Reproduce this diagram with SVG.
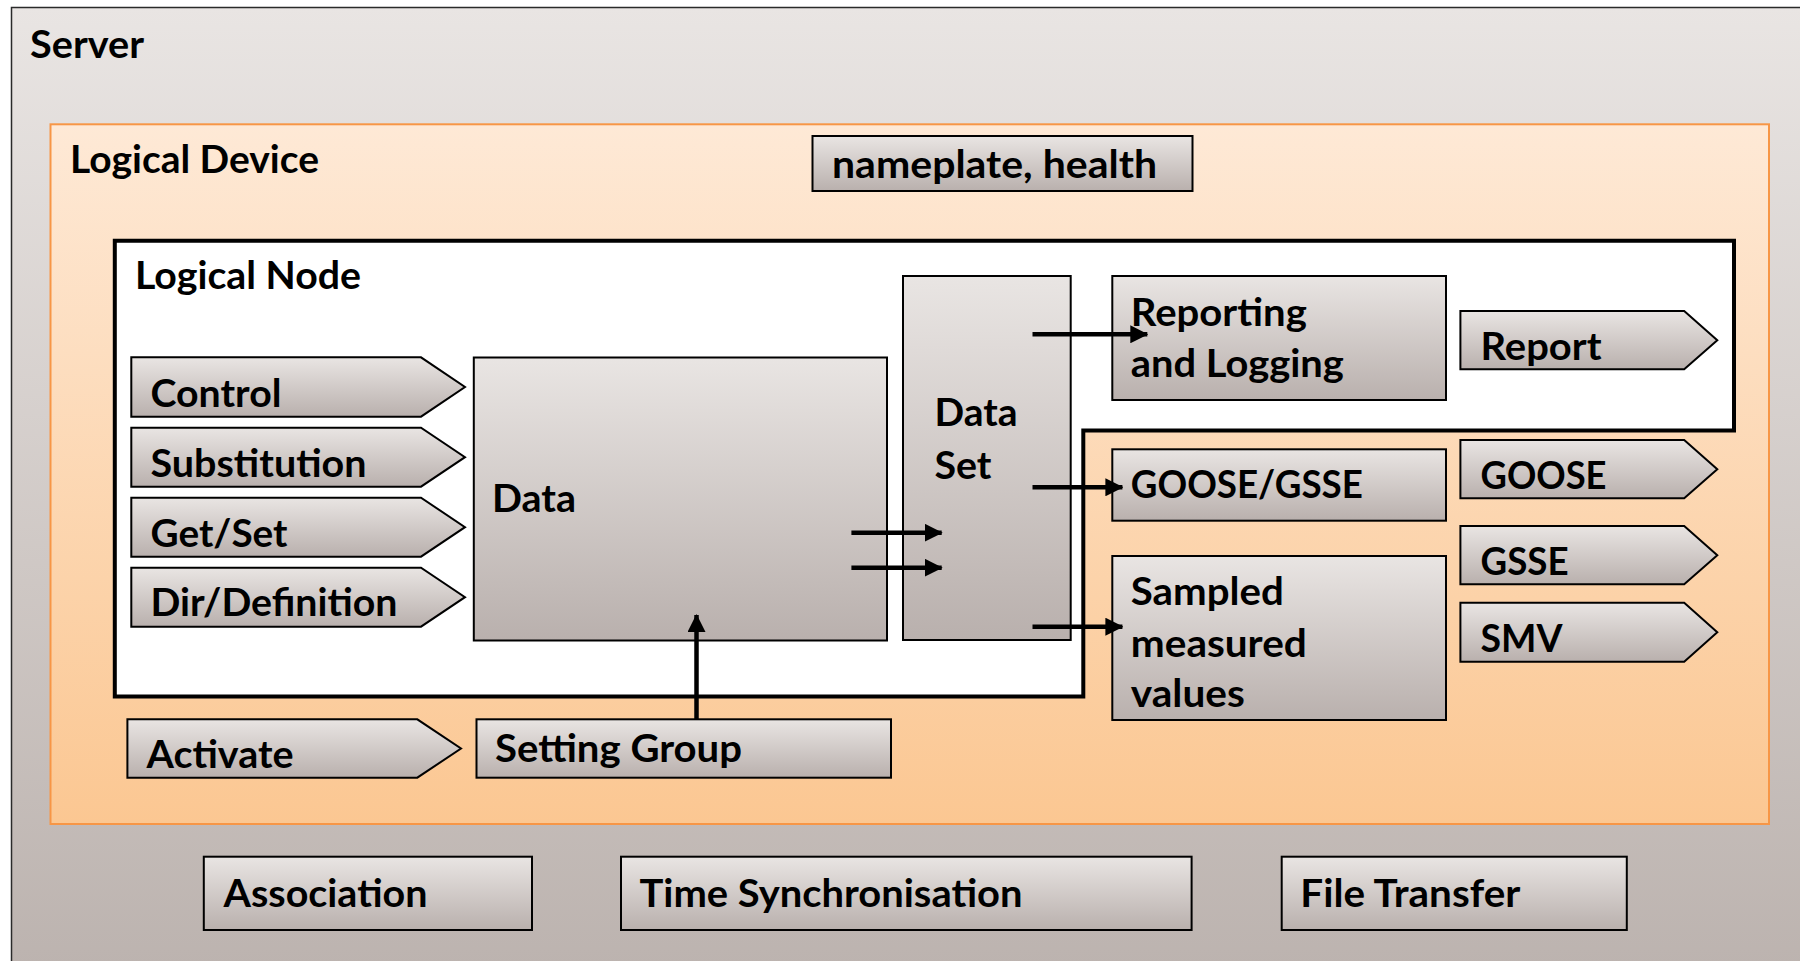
<svg xmlns="http://www.w3.org/2000/svg" width="1800" height="961" viewBox="0 0 1800 961">
<defs>
<linearGradient id="gServer" x1="0" y1="0" x2="0" y2="1"><stop offset="0" stop-color="#E9E5E3"/><stop offset="1" stop-color="#BCB3AF"/></linearGradient>
<linearGradient id="gLD" x1="0" y1="0" x2="0" y2="1"><stop offset="0" stop-color="#FEE9D6"/><stop offset="1" stop-color="#FBC792"/></linearGradient>
<linearGradient id="gBox" x1="0" y1="0" x2="0" y2="1"><stop offset="0" stop-color="#E9E5E3"/><stop offset="1" stop-color="#B9B0AD"/></linearGradient>
<marker id="ah" markerUnits="userSpaceOnUse" markerWidth="18" markerHeight="18" refX="17" refY="9" orient="auto"><path d="M0,0 L18,9 L0,18 z" fill="#000"/></marker>
<style>
.t{font-family:Lato,'Liberation Sans',sans-serif;font-weight:700;font-size:37.5px;fill:#000}
.box{fill:url(#gBox);stroke:#000;stroke-width:2}
.con{stroke:#000;stroke-width:4.5;fill:none}
</style>
</defs>
<g id="server">
<rect x="11.5" y="7.5" width="1800" height="960" fill="url(#gServer)" stroke="#2a2a2a" stroke-width="1.5"/>
<text class="t" x="30" y="58.3" textLength="114" lengthAdjust="spacingAndGlyphs">Server</text>
</g>
<g id="logical-device">
<rect x="50.5" y="124.3" width="1718.5" height="699.7" fill="url(#gLD)" stroke="#F79646" stroke-width="2"/>
<text class="t" x="70" y="173.3" textLength="249" lengthAdjust="spacingAndGlyphs">Logical Device</text>
</g>
<g id="nameplate">
<rect class="box" x="812.5" y="136" width="380" height="55"/>
<text class="t" x="832" y="177.7" textLength="325" lengthAdjust="spacingAndGlyphs">nameplate, health</text>
</g>
<g id="logical-node">
<path d="M114.8,240.7 L1734,240.7 L1734,430.5 L1083.3,430.5 L1083.3,696.5 L114.8,696.5 Z" fill="#fff" stroke="#000" stroke-width="4"/>
<text class="t" x="135" y="289.3" textLength="226" lengthAdjust="spacingAndGlyphs">Logical Node</text>
</g>
<g id="control">
<path class="box" d="M131.3,357.3 L421,357.3 L465,387 L421,416.7 L131.3,416.7 Z"/>
<text class="t" x="150.5" y="407.3" textLength="131" lengthAdjust="spacingAndGlyphs">Control</text>
</g>
<g id="substitution">
<path class="box" d="M131.3,427.7 L421,427.7 L465,457.2 L421,486.7 L131.3,486.7 Z"/>
<text class="t" x="150.5" y="476.7" textLength="216" lengthAdjust="spacingAndGlyphs">Substitution</text>
</g>
<g id="getset">
<path class="box" d="M131.3,497.7 L421,497.7 L465,527.2 L421,556.7 L131.3,556.7 Z"/>
<text class="t" x="150.5" y="546.7" textLength="137" lengthAdjust="spacingAndGlyphs">Get/Set</text>
</g>
<g id="dirdef">
<path class="box" d="M131.3,567.7 L421,567.7 L465,597.2 L421,626.7 L131.3,626.7 Z"/>
<text class="t" x="150.5" y="616" textLength="247" lengthAdjust="spacingAndGlyphs">Dir/Definition</text>
</g>
<g id="data">
<rect class="box" x="473.8" y="357.5" width="413.2" height="283"/>
<text class="t" x="492" y="512.3" textLength="84" lengthAdjust="spacingAndGlyphs">Data</text>
</g>
<g id="dataset">
<rect class="box" x="903" y="276" width="167.7" height="364"/>
<text class="t" x="934.5" y="426" textLength="83" lengthAdjust="spacingAndGlyphs">Data</text>
<text class="t" x="934.5" y="479.3" textLength="57" lengthAdjust="spacingAndGlyphs">Set</text>
</g>
<g id="reporting">
<rect class="box" x="1112.3" y="276" width="333.7" height="124"/>
<text class="t" x="1130.8" y="326" textLength="176" lengthAdjust="spacingAndGlyphs">Reporting</text>
<text class="t" x="1130.8" y="376.7" textLength="213" lengthAdjust="spacingAndGlyphs">and Logging</text>
</g>
<g id="report">
<path class="box" d="M1460.4,311 L1684.2,311 L1717.3,340.2 L1684.2,369.3 L1460.4,369.3 Z"/>
<text class="t" x="1480.5" y="360" textLength="121" lengthAdjust="spacingAndGlyphs">Report</text>
</g>
<g id="goose-gsse">
<rect class="box" x="1112.3" y="449.3" width="333.7" height="71.4"/>
<text class="t" x="1130.8" y="498.3" textLength="232" lengthAdjust="spacingAndGlyphs">GOOSE/GSSE</text>
</g>
<g id="goose">
<path class="box" d="M1460.4,440 L1684.2,440 L1717.3,469.2 L1684.2,498.3 L1460.4,498.3 Z"/>
<text class="t" x="1480.5" y="489" textLength="126" lengthAdjust="spacingAndGlyphs">GOOSE</text>
</g>
<g id="gsse">
<path class="box" d="M1460.4,526 L1684.2,526 L1717.3,555.2 L1684.2,584.3 L1460.4,584.3 Z"/>
<text class="t" x="1480.5" y="575" textLength="88" lengthAdjust="spacingAndGlyphs">GSSE</text>
</g>
<g id="smv">
<path class="box" d="M1460.4,602.7 L1684.2,602.7 L1717.3,632.2 L1684.2,661.7 L1460.4,661.7 Z"/>
<text class="t" x="1480.5" y="651.7" textLength="82" lengthAdjust="spacingAndGlyphs">SMV</text>
</g>
<g id="sampled">
<rect class="box" x="1112.3" y="556" width="333.7" height="164"/>
<text class="t" x="1130.8" y="605" textLength="153" lengthAdjust="spacingAndGlyphs">Sampled</text>
<text class="t" x="1130.8" y="657.3" textLength="176" lengthAdjust="spacingAndGlyphs">measured</text>
<text class="t" x="1130.8" y="707.3" textLength="114" lengthAdjust="spacingAndGlyphs">values</text>
</g>
<g id="activate">
<path class="box" d="M127.4,719.3 L417.3,719.3 L461,748.5 L417.3,777.7 L127.4,777.7 Z"/>
<text class="t" x="146.5" y="768.3" textLength="147" lengthAdjust="spacingAndGlyphs">Activate</text>
</g>
<g id="setting-group">
<rect class="box" x="476.5" y="719.3" width="414.5" height="58.4"/>
<text class="t" x="495" y="761.7" textLength="247" lengthAdjust="spacingAndGlyphs">Setting Group</text>
</g>
<g id="association">
<rect class="box" x="203.8" y="856.7" width="328.2" height="73.3"/>
<text class="t" x="223.5" y="907.3" textLength="204" lengthAdjust="spacingAndGlyphs">Association</text>
</g>
<g id="time-sync">
<rect class="box" x="621" y="856.7" width="570.6" height="73.3"/>
<text class="t" x="639.5" y="907.3" textLength="383" lengthAdjust="spacingAndGlyphs">Time Synchronisation</text>
</g>
<g id="file-transfer">
<rect class="box" x="1281.7" y="856.7" width="345.1" height="73.3"/>
<text class="t" x="1300.3" y="907.3" textLength="220" lengthAdjust="spacingAndGlyphs">File Transfer</text>
</g>
<g id="connectors">
<line class="con" x1="851.4" y1="532.7" x2="941.7" y2="532.7" marker-end="url(#ah)"/>
<line class="con" x1="851.4" y1="567.7" x2="941.7" y2="567.7" marker-end="url(#ah)"/>
<line class="con" x1="1032.5" y1="334.3" x2="1147.3" y2="334.3" marker-end="url(#ah)"/>
<line class="con" x1="1032.5" y1="487.3" x2="1122.4" y2="487.3" marker-end="url(#ah)"/>
<line class="con" x1="1032.5" y1="626.7" x2="1122.4" y2="626.7" marker-end="url(#ah)"/>
<line class="con" x1="696.5" y1="719.3" x2="696.5" y2="615" marker-end="url(#ah)"/>
</g>
</svg>
